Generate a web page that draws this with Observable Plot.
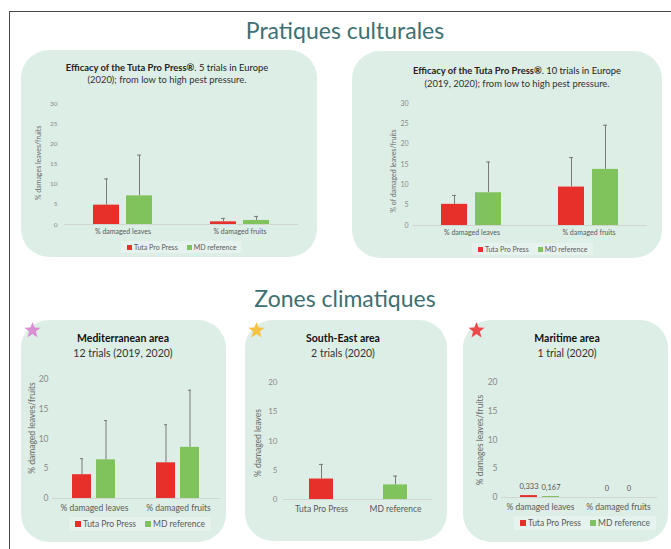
<!DOCTYPE html>
<html><head><meta charset="utf-8">
<script src="https://cdn.jsdelivr.net/npm/d3@7"></script>
<script src="https://cdn.jsdelivr.net/npm/@observablehq/plot@0.6"></script>
<style>
html,body{margin:0;padding:0;background:#fff;}
#root{position:relative;width:671px;height:549px;overflow:hidden;font-family:Lato,sans-serif;background:#fff;}
.frame{position:absolute;left:9px;top:11px;width:700px;height:600px;border-left:1.5px solid #4a4a4a;border-top:1.5px solid #4a4a4a;}
.panel{position:absolute;background:#ddeee6;border-radius:28px;}
.big{position:absolute;left:0;width:690px;text-align:center;color:#3e7073;font-size:23px;line-height:26px;}
.t{position:absolute;white-space:nowrap;transform:translate(-50%,-50%);}
.yl{position:absolute;white-space:nowrap;transform:translate(-50%,-50%) rotate(-90deg);color:#6a6a6a;}
.plot{position:absolute;}
.leg{position:absolute;display:flex;align-items:center;white-space:nowrap;color:#5a5a5a;transform:translateY(-50%);background:rgba(255,255,255,0.28);padding:2px 6px;}
.sw{display:inline-block;margin-right:2px;}
</style></head><body><div id="root"><div class="frame"></div></div>
<script>
// ---------- data ----------
const series = ["Tuta Pro Press", "MD reference"];
const seriesColors = ["#e8302b", "#80c25c"];
const categories = ["% damaged leaves", "% damaged fruits"];

// Panel 1: 5 trials in Europe (2020)
const p1Tuta = [4.8, 0.66];
const p1TutaErr = [6.5, 0.85];
const p1MD = [7.1, 1.0];
const p1MDErr = [10.1, 1.0];

// Panel 2: 10 trials in Europe (2019, 2020)
const p2Tuta = [5.2, 9.45];
const p2TutaErr = [2.2, 7.25];
const p2MD = [8.05, 13.8];
const p2MDErr = [7.55, 10.85];

// Panel 3: Mediterranean area
const p3Tuta = [4.0, 6.0];
const p3TutaErr = [2.7, 6.4];
const p3MD = [6.5, 8.6];
const p3MDErr = [6.6, 9.6];

// Panel 4: South-East area (leaves only)
const p4Values = [3.5, 2.5];
const p4Err = [2.5, 1.5];

// Panel 5: Maritime area
const p5Tuta = [0.333, 0];
const p5MD = [0.167, 0];

const ticks30 = [0, 5, 10, 15, 20, 25, 30];
const ticks20 = [0, 5, 10, 15, 20];

// ---------- helpers ----------
const root = document.getElementById("root");
function el(cls, css, html) {
  const d = document.createElement("div");
  d.className = cls;
  Object.assign(d.style, css);
  if (html != null) d.innerHTML = html;
  root.appendChild(d);
  return d;
}
function text(x, y, html, size, extra = {}) {
  return el("t", Object.assign({left: x + "px", top: y + "px", fontSize: size + "px"}, extra), html);
}
function ylabel(x, y, txt, size) {
  return el("yl", {left: x + "px", top: y + "px", fontSize: size + "px"}, txt);
}
function panel(x, y, w, h) {
  el("panel", {left: x + "px", top: y + "px", width: w + "px", height: h + "px"});
}
function legend(x, y, size, sq) {
  const d = el("leg", {left: x + "px", top: y + "px", fontSize: size + "px"});
  series.forEach((s, i) => {
    const sw = document.createElement("span");
    sw.className = "sw";
    Object.assign(sw.style, {width: sq + "px", height: sq + "px", background: seriesColors[i]});
    d.appendChild(sw);
    const t = document.createElement("span");
    t.textContent = s;
    t.style.marginRight = i === 0 ? "9px" : "0";
    d.appendChild(t);
  });
}
function star(cx, cy, r, color) {
  const pts = [];
  for (let k = 0; k < 10; k++) {
    const a = -Math.PI / 2 + k * Math.PI / 5;
    const rr = k % 2 ? r * 0.42 : r;
    pts.push((r + rr * Math.cos(a)).toFixed(2) + "," + (r + rr * Math.sin(a)).toFixed(2));
  }
  el("plot", {left: (cx - r) + "px", top: (cy - r) + "px"},
    `<svg width="${2*r}" height="${2*r}"><polygon points="${pts.join(" ")}" fill="${color}"/></svg>`);
}
function place(svg, x, y) {
  const d = el("plot", {left: x + "px", top: y + "px"});
  d.appendChild(svg);
}

function grouped(o) {
  const rows = categories.flatMap((c, i) => series.map((s, j) => ({
    cat: c, ser: s, v: o.vals[j][i], e: o.errs ? o.errs[j][i] : 0
  })));
  const marks = [
    Plot.ruleY([0], {stroke: "#cfd6d2"}),
    o.errs ? Plot.ruleX(rows, {fx: "cat", x: "ser", y1: "v", y2: d => d.v + d.e, stroke: "#7a7a7a", strokeWidth: 1}) : null,
    Plot.barY(rows, {fx: "cat", x: "ser", y: "v", fill: "ser"}),
    o.errs ? Plot.tickY(rows, {fx: "cat", x: "ser", y: d => d.v + d.e, stroke: "#7a7a7a", strokeWidth: 1, insetLeft: o.cap, insetRight: o.cap}) : null,
    o.valueLabels ? Plot.text(rows, {fx: "cat", x: "ser", y: "v", text: d => String(d.v).replace(".", ","), dy: -9, fontSize: o.valueFont, fill: "#555"}) : null,
    Plot.axisY({ticks: o.yticks, tickSize: 0, tickPadding: o.tickPad, fontSize: o.tickFont, label: null}),
    Plot.axisFx({anchor: "bottom", tickSize: 0, tickPadding: o.catPad, fontSize: o.catFont, label: null, color: "#5a5a5a"})
  ].filter(Boolean);
  return Plot.plot({
    width: o.width, height: o.height,
    marginTop: o.mt, marginBottom: o.mb, marginLeft: o.ml, marginRight: o.mr,
    style: {background: "transparent", fontFamily: "Lato, sans-serif", color: "#8a8a8a", overflow: "visible"},
    fx: {domain: categories, padding: 0, label: null},
    x: {domain: series, paddingInner: o.pi, paddingOuter: o.po, axis: null},
    y: {domain: [0, o.ymax], label: null},
    color: {domain: series, range: seriesColors},
    marks
  });
}

// ---------- big titles ----------
el("big", {top: "17px"}, "Pratiques culturales");
el("big", {top: "285px"}, "Zones climatiques");

// ---------- panels ----------
panel(21, 50, 296, 207);
panel(352, 51, 310, 207);
panel(21, 320, 205, 222);
panel(245, 320, 202, 221);
panel(463, 320, 205, 222);

star(32, 330, 8.5, "#d98fd2");
star(256, 330, 8.5, "#f6c244");
star(476, 330, 8.5, "#ec4b4b");

// Panel 1
text(167, 67, "<b>Efficacy of the Tuta Pro Press®</b>. 5 trials in Europe", 9.4, {color: "#222"});
text(167, 79, "(2020); from low to high pest pressure.", 9.4, {color: "#333"});
ylabel(38, 163, "% damages leaves/fruits", 7);
place(grouped({
  width: 287, height: 154, mt: 13, mb: 20, ml: 42, mr: 10,
  ymax: 30, yticks: ticks30, vals: [p1Tuta, p1MD], errs: [p1TutaErr, p1MDErr],
  pi: 0.206, po: 0.83, cap: 11, tickFont: 6.5, tickPad: 7, catFont: 7, catPad: 5
}), 21, 90);
legend(121, 247, 7, 5);

// Panel 2
text(517, 70, "<b>Efficacy of the Tuta Pro Press®</b>. 10 trials in Europe", 9.4, {color: "#222"});
text(517, 83, "(2019, 2020); from low to high pest pressure.", 9.4, {color: "#333"});
ylabel(393, 171, "% of damaged leaves/fruits", 7);
place(grouped({
  width: 302, height: 155, mt: 13, mb: 20, ml: 58, mr: 10,
  ymax: 30, yticks: ticks30, vals: [p2Tuta, p2MD], errs: [p2TutaErr, p2MDErr],
  pi: 0.235, po: 0.838, cap: 11, tickFont: 7, tickPad: 5, catFont: 7, catPad: 5
}), 355, 90);
legend(472, 249, 7, 5);

// Panel 3
text(123, 338, "<b>Mediterranean area</b>", 10.5, {color: "#111"});
text(123, 353, "12 trials (2019, 2020)", 10.5, {color: "#333"});
ylabel(32, 428, "% damaged leaves/fruits", 8.5);
place(grouped({
  width: 205, height: 155, mt: 14, mb: 22, ml: 31, mr: 6,
  ymax: 20, yticks: ticks20, vals: [p3Tuta, p3MD], errs: [p3TutaErr, p3MDErr],
  pi: 0.204, po: 0.816, cap: 8, tickFont: 8.5, tickPad: 4, catFont: 8.5, catPad: 6
}), 21, 365);
legend(69, 524, 8.5, 6);

// Panel 4
text(343, 338, "<b>South-East area</b>", 10.5, {color: "#111"});
text(343, 353, "2 trials (2020)", 10.5, {color: "#333"});
ylabel(258, 443, "% damaged leaves", 8.5);
{
  const rows4 = series.map((s, i) => ({ser: s, v: p4Values[i], e: p4Err[i]}));
  place(Plot.plot({
    width: 197, height: 156, marginTop: 17, marginBottom: 22, marginLeft: 38, marginRight: 10,
    style: {background: "transparent", fontFamily: "Lato, sans-serif", color: "#8a8a8a", overflow: "visible"},
    x: {domain: series, paddingInner: 0.678, paddingOuter: 0.339, label: null},
    y: {domain: [0, 20], label: null},
    color: {domain: series, range: seriesColors},
    marks: [
      Plot.ruleY([0], {stroke: "#cfd6d2"}),
      Plot.ruleX(rows4, {x: "ser", y1: "v", y2: d => d.v + d.e, stroke: "#7a7a7a"}),
      Plot.barY(rows4, {x: "ser", y: "v", fill: "ser"}),
      Plot.tickY(rows4, {x: "ser", y: d => d.v + d.e, stroke: "#7a7a7a", insetLeft: 10, insetRight: 10}),
      Plot.axisY({ticks: ticks20, tickSize: 0, tickPadding: 6, fontSize: 8, label: null}),
      Plot.axisX({tickSize: 0, tickPadding: 6, fontSize: 8.5, label: null, color: "#5a5a5a"})
    ]
  }), 245, 365);
}

// Panel 5
text(567, 338, "<b>Maritime area</b>", 10.5, {color: "#111"});
text(567, 353, "1 trial (2020)", 10.5, {color: "#333"});
ylabel(480, 440, "% damages leaves/fruits", 8.5);
place(grouped({
  width: 202, height: 154, mt: 17, mb: 22, ml: 37, mr: 8,
  ymax: 20, yticks: ticks20, vals: [p5Tuta, p5MD], errs: null, valueLabels: true, valueFont: 7.5,
  pi: 0.222, po: 0.856, cap: 0, tickFont: 8.5, tickPad: 4, catFont: 8.5, catPad: 6
}), 463, 365);
legend(514, 523, 8.5, 6);
</script></body></html>
